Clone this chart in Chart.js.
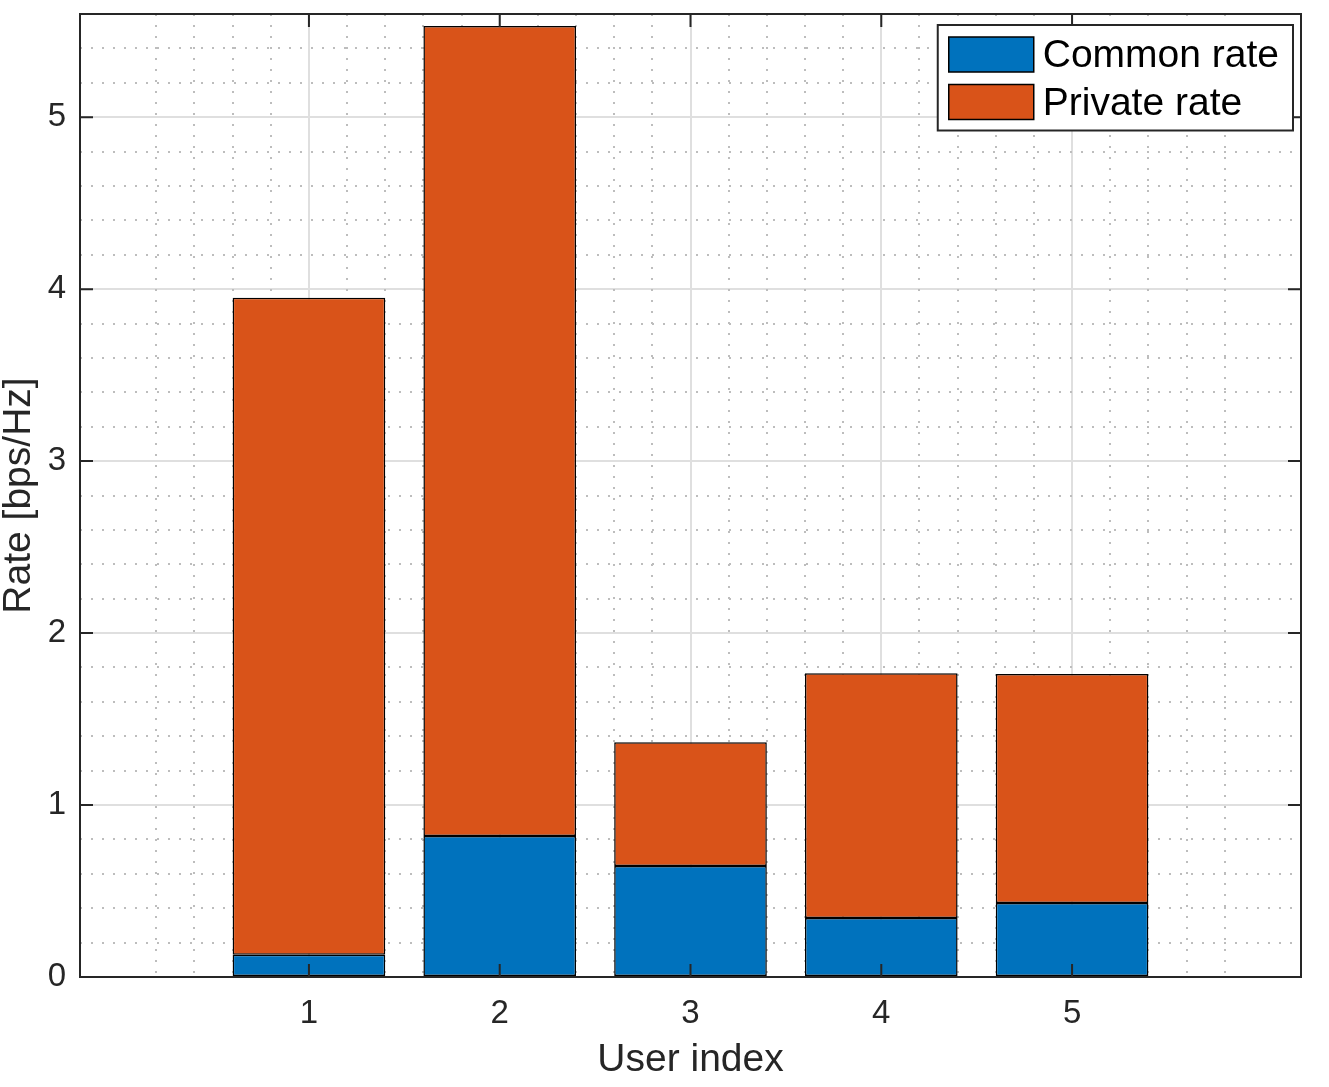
<!DOCTYPE html>
<html>
<head>
<meta charset="utf-8">
<title>Common and private rate per user</title>
<script src="https://cdn.jsdelivr.net/npm/chart.js@4.4.1/dist/chart.umd.min.js"></script>
<style>
  html, body { margin: 0; padding: 0; background: #fff; }
  #chart { display: block; }
</style>
</head>
<body>
<canvas id="chart" width="1329" height="1087"></canvas>
<script>
// ===== DATA =====
const users = [1, 2, 3, 4, 5];
const commonRate = [0.13, 0.82, 0.645, 0.343, 0.43];
const privateRate = [3.82, 4.71, 0.72, 1.424, 1.332];
const seriesNames = ["Common rate", "Private rate"];
const xTicks = [1, 2, 3, 4, 5];
const yTicks = [0, 1, 2, 3, 4, 5];
const xRange = [-0.2, 6.2];
const yRange = [0, 5.6];
const minorStep = 0.2;

const FONT = "'Liberation Sans', Arial, Helvetica, sans-serif";
const AXIS_COLOR = "#262626";

// minor grid positions (dotted), skipping the major ones
function minorTicks(lo, hi) {
    const out = [];
    for (let v = lo; v <= hi + 1e-9; v += minorStep) out.push({ value: +v.toFixed(3) });
    return out;
}
const isWhole = v => v === undefined || Math.abs(v - Math.round(v)) < 1e-6;
const minorColor = c => isWhole(c.tick?.value) ? "rgba(0,0,0,0)" : "#bdbdbd";
const noPad = s => { s.paddingTop = 0; s.paddingBottom = 0; s.paddingLeft = 0; s.paddingRight = 0; };

// ===== AXES BOX + INWARD TICKS (drawn over the bars) =====
const axesBox = {
    id: "axesBox",
    afterDatasetsDraw(chart) {
        const { ctx, chartArea: a, scales: { x, y } } = chart;
        const tl = 13;
        ctx.save();
        ctx.strokeStyle = AXIS_COLOR;
        ctx.lineWidth = 2;
        ctx.beginPath();
        xTicks.forEach(v => {
            const px = x.getPixelForValue(v);
            ctx.moveTo(px, a.bottom); ctx.lineTo(px, a.bottom - tl);
            ctx.moveTo(px, a.top); ctx.lineTo(px, a.top + tl);
        });
        yTicks.forEach(v => {
            const py = y.getPixelForValue(v);
            ctx.moveTo(a.left, py); ctx.lineTo(a.left + tl, py);
            ctx.moveTo(a.right, py); ctx.lineTo(a.right - tl, py);
        });
        ctx.stroke();
        ctx.strokeRect(a.left, a.top, a.right - a.left, a.bottom - a.top);
        ctx.restore();
    }
};

// ===== LEGEND BOX (top right, inside the axes) =====
const boxLegend = {
    id: "boxLegend",
    afterDraw(chart) {
        const { ctx, chartArea: a } = chart;
        const sets = chart.data.datasets;
        ctx.save();
        ctx.font = "39px " + FONT;
        const textW = Math.max(...sets.map(d => ctx.measureText(d.label).width));
        const sw = 85, sh = 35, row = 47.5, padL = 11, padT = 12, gap = 9, padR = 14;
        const w = padL + sw + gap + textW + padR;
        const h = padT * 2 + sh + row * (sets.length - 1) - 1;
        const left = a.right - 8 - w, top = a.top + 11;
        ctx.fillStyle = "#fff";
        ctx.fillRect(left, top, w, h);
        ctx.strokeStyle = AXIS_COLOR;
        ctx.lineWidth = 2;
        ctx.strokeRect(left, top, w, h);
        sets.forEach((d, i) => {
            const sy = top + padT + i * row;
            ctx.fillStyle = d.backgroundColor;
            ctx.fillRect(left + padL, sy, sw, sh);
            ctx.strokeStyle = "#000";
            ctx.lineWidth = 1.5;
            ctx.strokeRect(left + padL, sy, sw, sh);
            ctx.fillStyle = "#000";
            ctx.textBaseline = "middle";
            ctx.textAlign = "left";
            ctx.fillText(d.label, left + padL + sw + gap, sy + sh / 2 + 2);
        });
        ctx.restore();
    }
};

const tickFont = { family: FONT, size: 33 };
const titleFont = { family: FONT, size: 39, lineHeight: 1 };

new Chart(document.getElementById("chart"), {
    type: "bar",
    data: {
        datasets: [
            {
                label: seriesNames[0],
                data: users.map((u, i) => ({ x: u, y: commonRate[i] })),
                xAxisID: "x", yAxisID: "y",
                backgroundColor: "#0072BD",
                borderColor: "#000",
                borderWidth: 1.5,
                borderSkipped: false
            },
            {
                label: seriesNames[1],
                data: users.map((u, i) => ({ x: u, y: privateRate[i] })),
                xAxisID: "x", yAxisID: "y",
                backgroundColor: "#D95319",
                borderColor: "#000",
                borderWidth: 1.5,
                borderSkipped: false
            }
        ]
    },
    options: {
        responsive: false,
        animation: false,
        categoryPercentage: 1,
        barPercentage: 0.8,
        layout: { padding: { top: 14, right: 28, left: 0, bottom: 0 } },
        plugins: { legend: { display: false }, tooltip: { enabled: false } },
        scales: {
            x: {
                type: "linear", position: "bottom", stacked: true, offset: false,
                min: xRange[0], max: xRange[1],
                afterBuildTicks: s => { s.ticks = xTicks.map(v => ({ value: v })); },
                afterFit: s => { s.height = 110; noPad(s); },
                border: { display: false },
                grid: { drawTicks: false, offset: false, lineWidth: 2, color: "#dfdfdf" },
                ticks: { font: tickFont, color: AXIS_COLOR, padding: 17, maxRotation: 0, callback: v => String(v) },
                title: { display: true, text: "User index", font: titleFont, color: AXIS_COLOR, padding: { top: 0, bottom: 7 } }
            },
            y: {
                type: "linear", position: "left", stacked: true,
                min: yRange[0], max: yRange[1],
                afterBuildTicks: s => { s.ticks = yTicks.map(v => ({ value: v })); },
                afterFit: s => { s.width = 80; noPad(s); },
                border: { display: false },
                grid: { drawTicks: false, lineWidth: 2, color: c => c.tick?.value === 0 ? "rgba(0,0,0,0)" : "#dfdfdf" },
                ticks: { font: tickFont, color: AXIS_COLOR, padding: 14, callback: v => String(v) },
                title: { display: true, text: "Rate [bps/Hz]", font: titleFont, color: AXIS_COLOR, padding: { top: 0, bottom: 0 } }
            },
            xMinor: {
                type: "linear", position: "bottom", offset: false, min: xRange[0], max: xRange[1],
                afterBuildTicks: s => { s.ticks = minorTicks(xRange[0], xRange[1]); },
                afterFit: s => { s.height = 0; noPad(s); },
                ticks: { display: false },
                border: { display: false, dash: [2, 9] },
                grid: { drawTicks: false, offset: false, lineWidth: 2, color: minorColor }
            },
            yMinor: {
                type: "linear", position: "left", min: yRange[0], max: yRange[1],
                afterBuildTicks: s => { s.ticks = minorTicks(yRange[0], yRange[1]); },
                afterFit: s => { s.width = 0; noPad(s); },
                ticks: { display: false },
                border: { display: false, dash: [2, 9] },
                grid: { drawTicks: false, lineWidth: 2, color: minorColor }
            }
        }
    },
    plugins: [axesBox, boxLegend]
});
</script>
</body>
</html>
